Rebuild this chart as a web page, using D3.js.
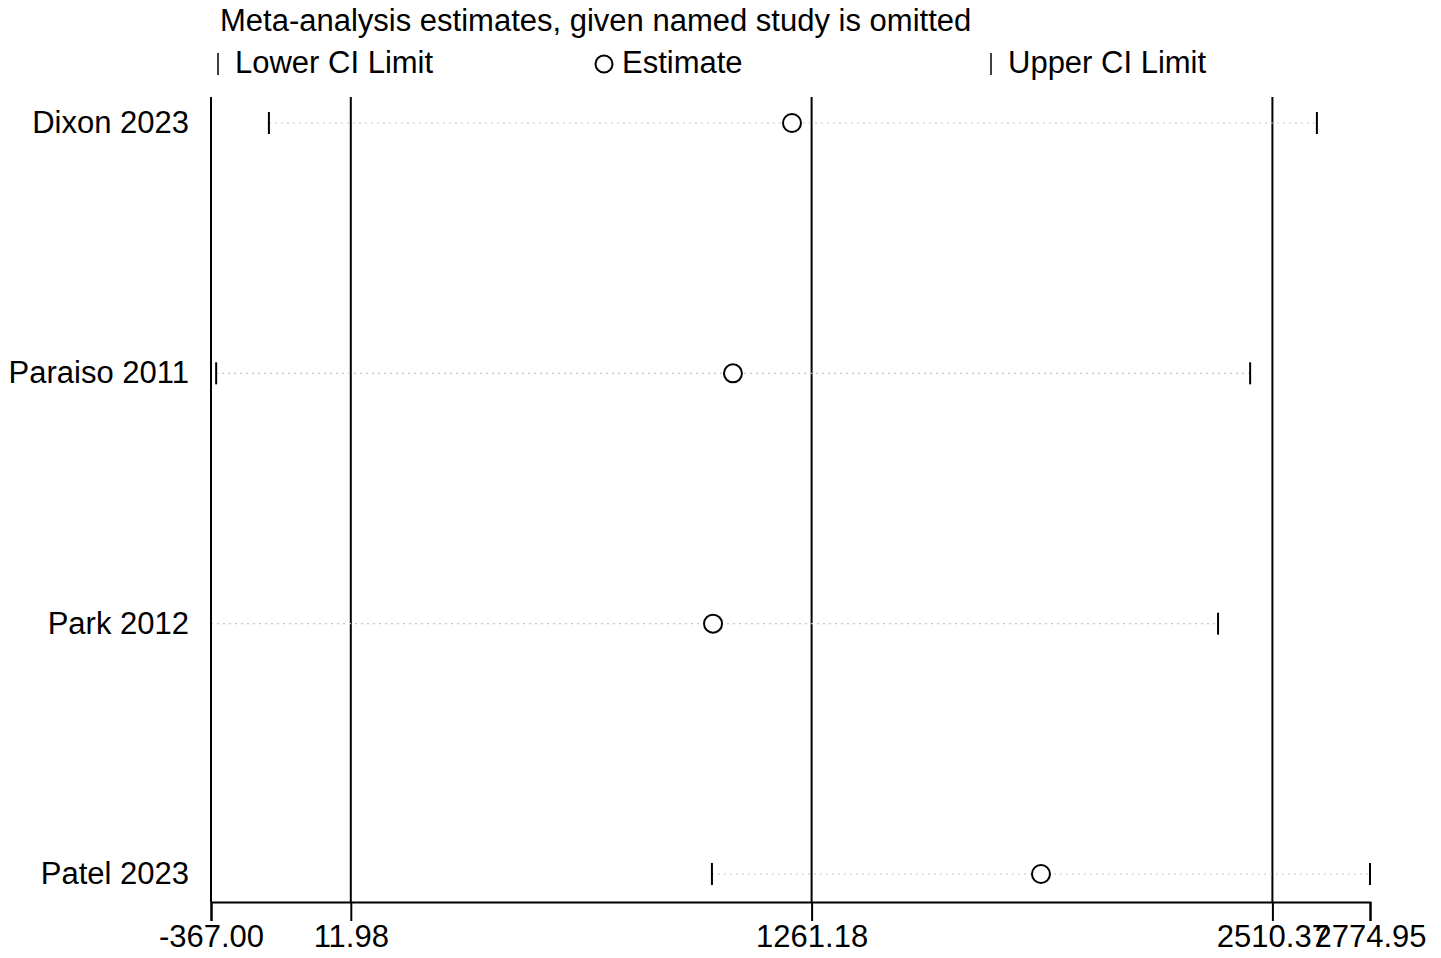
<!DOCTYPE html>
<html>
<head>
<meta charset="utf-8">
<script src="https://cdn.jsdelivr.net/npm/d3@7"></script>
<style>
  body { margin: 0; background: #fff; }
  text { font-family: "Liberation Sans", Arial, sans-serif; fill: #000; }
</style>
</head>
<body>
<svg id="chart" width="1441" height="958"></svg>
<script>
// studies omitted, one row each
var studies = ['Dixon 2023', 'Paraiso 2011', 'Park 2012', 'Patel 2023'];
var lower = [-210, -353, -367, 991];
var estimate = [1208, 1048, 994, 1883];
var upper = [2631, 2450, 2363, 2774.95];

// axis ticks as printed by the original
var tickValues = [-367.00, 11.98, 1261.18, 2510.37, 2774.95];
var refLines = [-367.00, 11.98, 1261.18, 2510.37];

var svg = d3.select('#chart');
var fontSize = 31;

var x = d3.scaleLinear().domain([-367.00, 2774.95]).range([211, 1370]);
var y = d3.scalePoint().domain(studies).range([123, 874]);
var plotTop = 97, plotBottom = 902;

// title
svg.append('text')
    .attr('x', 220).attr('y', 31)
    .style('font-size', fontSize + 'px')
    .text('Meta-analysis estimates, given named study is omitted');

// legend
var legend = svg.append('g');
legend.append('line').attr('x1', 218).attr('x2', 218).attr('y1', 53).attr('y2', 75)
    .attr('stroke', '#000').attr('stroke-width', 1.5);
legend.append('text').attr('x', 235).attr('y', 73).style('font-size', fontSize + 'px').text('Lower CI Limit');
legend.append('circle').attr('cx', 604).attr('cy', 64).attr('r', 8.5)
    .attr('fill', 'none').attr('stroke', '#000').attr('stroke-width', 2);
legend.append('text').attr('x', 622).attr('y', 73).style('font-size', fontSize + 'px').text('Estimate');
legend.append('line').attr('x1', 991).attr('x2', 991).attr('y1', 53).attr('y2', 75)
    .attr('stroke', '#000').attr('stroke-width', 1.5);
legend.append('text').attr('x', 1008).attr('y', 73).style('font-size', fontSize + 'px').text('Upper CI Limit');

// reference verticals
svg.selectAll('.ref').data(refLines).enter().append('line')
    .attr('class', 'ref')
    .attr('x1', d => x(d)).attr('x2', d => x(d))
    .attr('y1', plotTop).attr('y2', plotBottom)
    .attr('stroke', '#000').attr('stroke-width', 2);

// x axis
var fmt = d3.format('.2f');
var xAxis = svg.append('g')
    .attr('transform', 'translate(0,' + plotBottom + ')')
    .call(d3.axisBottom(x).tickValues(tickValues)
        .tickFormat(d => fmt(d).replace('\u2212', '-'))
        .tickSize(19).tickPadding(4));
xAxis.select('.domain').attr('stroke', '#000').attr('stroke-width', 2);
xAxis.selectAll('.tick line').attr('stroke', '#000').attr('stroke-width', 2);
xAxis.selectAll('.tick text')
    .style('font-size', fontSize + 'px')
    .style('font-family', '"Liberation Sans", Arial, sans-serif')
    .attr('fill', '#000');

// rows
var rows = svg.selectAll('.row').data(studies).enter().append('g').attr('class', 'row');

rows.append('line')
    .attr('x1', (d, i) => x(lower[i])).attr('x2', (d, i) => x(upper[i]))
    .attr('y1', d => y(d)).attr('y2', d => y(d))
    .attr('stroke', '#c4c4c4').attr('stroke-width', 1.2).attr('stroke-dasharray', '2,4');

rows.append('line')
    .attr('x1', (d, i) => x(lower[i])).attr('x2', (d, i) => x(lower[i]))
    .attr('y1', d => y(d) - 11).attr('y2', d => y(d) + 11)
    .attr('stroke', '#000').attr('stroke-width', 2);

rows.append('line')
    .attr('x1', (d, i) => x(upper[i])).attr('x2', (d, i) => x(upper[i]))
    .attr('y1', d => y(d) - 11).attr('y2', d => y(d) + 11)
    .attr('stroke', '#000').attr('stroke-width', 2);

rows.append('circle')
    .attr('cx', (d, i) => x(estimate[i])).attr('cy', d => y(d))
    .attr('r', 9).attr('fill', '#fff').attr('stroke', '#000').attr('stroke-width', 2);

rows.append('text')
    .attr('x', 189).attr('y', d => y(d) + 10)
    .attr('text-anchor', 'end')
    .style('font-size', fontSize + 'px')
    .text(d => d);
</script>
</body>
</html>
